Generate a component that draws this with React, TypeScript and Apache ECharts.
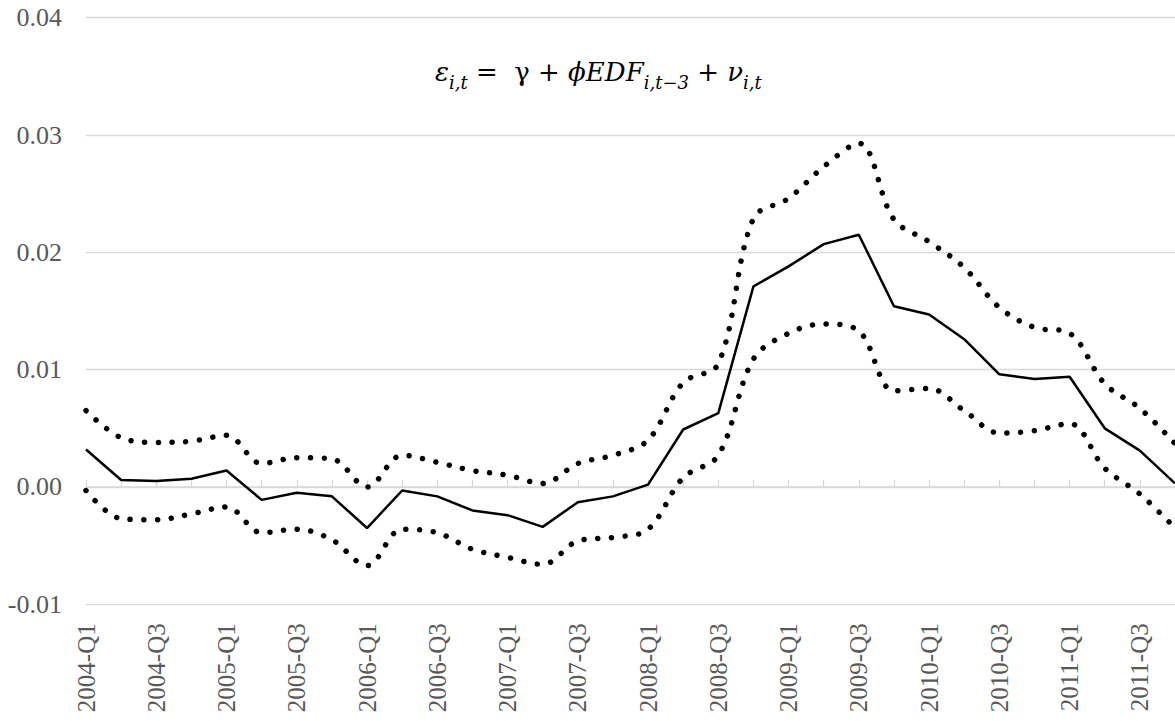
import React, { useEffect, useRef } from "react";
import * as echarts from "echarts";

const categories = [
  "2004-Q1", "2004-Q2", "2004-Q3", "2004-Q4",
  "2005-Q1", "2005-Q2", "2005-Q3", "2005-Q4",
  "2006-Q1", "2006-Q2", "2006-Q3", "2006-Q4",
  "2007-Q1", "2007-Q2", "2007-Q3", "2007-Q4",
  "2008-Q1", "2008-Q2", "2008-Q3", "2008-Q4",
  "2009-Q1", "2009-Q2", "2009-Q3", "2009-Q4",
  "2010-Q1", "2010-Q2", "2010-Q3", "2010-Q4",
  "2011-Q1", "2011-Q2", "2011-Q3", "2011-Q4",
];

const estimate = [
  0.0032, 0.0006, 0.0005, 0.0007, 0.0014, -0.0011, -0.0005, -0.0008,
  -0.0035, -0.0003, -0.0008, -0.002, -0.0024, -0.0034, -0.0013, -0.0008,
  0.0002, 0.0049, 0.0063, 0.0171, 0.0188, 0.0207, 0.0215, 0.0154,
  0.0147, 0.0126, 0.0096, 0.0092, 0.0094, 0.005, 0.0031, 0.0003,
];

const upperBand = [
  0.0065, 0.0042, 0.0038, 0.0039, 0.0044, 0.002, 0.0025, 0.0024,
  0.0, 0.0027, 0.0021, 0.0014, 0.001, 0.0003, 0.002, 0.0027,
  0.004, 0.0089, 0.0105, 0.0229, 0.0246, 0.0273, 0.0293, 0.0228,
  0.0209, 0.0187, 0.0153, 0.0136, 0.0131, 0.0088, 0.0067, 0.0037,
];

const lowerBand = [
  -0.0003, -0.0027, -0.0028, -0.0023, -0.0017, -0.0039, -0.0036, -0.0045,
  -0.0067, -0.0036, -0.0039, -0.0053, -0.006, -0.0066, -0.0046, -0.0043,
  -0.0036, 0.0008, 0.0027, 0.0109, 0.0131, 0.0139, 0.0133, 0.0082,
  0.0084, 0.0065, 0.0046, 0.0048, 0.0054, 0.0016, -0.0006, -0.0035,
];

const FONT = "'Liberation Serif', 'Times New Roman', serif";
const MATH = "'DejaVu Serif', 'Liberation Serif', serif";
const GRAY = "#595959";
const GRID = "#d9d9d9";

export default function App() {
  const ref = useRef<HTMLDivElement>(null);

  useEffect(() => {
    if (!ref.current) return;
    const chart = echarts.init(ref.current, undefined, { renderer: "svg" });
    const dotted = {
      color: "#000",
      width: 5.5,
      type: [0.01, 13.7] as number[],
      cap: "round" as const,
    };
    chart.setOption({
      animation: false,
      backgroundColor: "#fff",
      title: {
        text: "{i|ε}{s|i,t}{r| =  γ + }{i|ϕEDF}{s|i,t−3}{r| + }{i|ν}{s|i,t}",
        left: 430,
        top: 48,
        textStyle: {
          fontWeight: "normal",
          rich: {
            i: { fontFamily: MATH, fontStyle: "italic", fontWeight: "normal", fontSize: 26, color: "#000", lineHeight: 36 },
            r: { fontFamily: MATH, fontWeight: "normal", fontSize: 26, color: "#000", lineHeight: 36 },
            s: { fontFamily: MATH, fontStyle: "italic", fontWeight: "normal", fontSize: 18, color: "#000", padding: [20, 0, 0, 0] },
          },
        },
      },
      grid: { left: 86, right: -3.2, top: 17.7, bottom: 116.7, containLabel: false },
      xAxis: {
        type: "category",
        data: categories,
        boundaryGap: false,
        axisLine: { show: true, lineStyle: { color: GRID, width: 1.5 } },
        axisTick: { show: true, inside: true, length: 7, interval: 0, lineStyle: { color: GRID, width: 1.3 } },
        axisLabel: {
          interval: 1,
          rotate: 90,
          margin: 19,
          color: GRAY,
          fontFamily: FONT,
          fontSize: 25,
        },
        splitLine: { show: false },
      },
      yAxis: {
        type: "value",
        min: -0.01,
        max: 0.04,
        interval: 0.01,
        axisLine: { show: false },
        axisTick: { show: false },
        axisLabel: {
          margin: 24,
          color: GRAY,
          fontFamily: FONT,
          fontSize: 26,
          formatter: (v: number) => v.toFixed(2),
        },
        splitLine: { show: true, lineStyle: { color: GRID, width: 1.3 } },
      },
      series: [
        {
          name: "upper",
          type: "line",
          data: upperBand,
          smooth: 0.35,
          showSymbol: false,
          symbol: "none",
          lineStyle: dotted,
          z: 2,
        },
        {
          name: "lower",
          type: "line",
          data: lowerBand,
          smooth: 0.35,
          showSymbol: false,
          symbol: "none",
          lineStyle: dotted,
          z: 2,
        },
        {
          name: "estimate",
          type: "line",
          data: estimate,
          showSymbol: false,
          symbol: "none",
          lineStyle: { color: "#000", width: 2.5 },
          z: 3,
        },
      ],
    });
    return () => chart.dispose();
  }, []);

  return (
    <div
      ref={ref}
      style={{ position: "fixed", left: 0, top: 0, width: 1175, height: 721, background: "#fff" }}
    />
  );
}
